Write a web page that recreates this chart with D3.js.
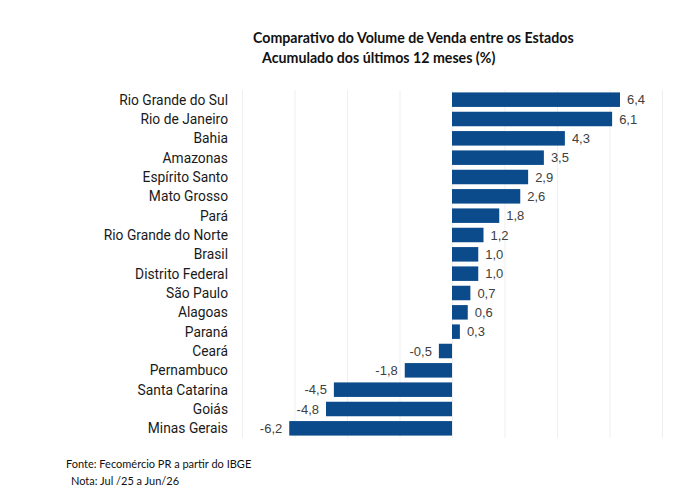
<!DOCTYPE html>
<meta charset="utf-8">
<title>Comparativo do Volume de Venda</title>
<style>
    body { margin: 0; background: #fff; }
    .title { font-family: Lato, "Noto Sans", sans-serif; font-weight: bold; font-size: 14.2px; fill: #111; }
    .note { font-family: Lato, "Noto Sans", sans-serif; font-size: 11px; fill: #111; }
    .cat { font-family: Roboto, "Liberation Sans", sans-serif; font-size: 13.8px; fill: #1a1a1a; }
    .val { font-family: "Liberation Sans", Arial, sans-serif; font-size: 13px; fill: #404040; }
</style>
<script src="https://d3js.org/d3.v7.js"></script>
<body>
<script>
    // data
    const states = ["Rio Grande do Sul", "Rio de Janeiro", "Bahia", "Amazonas", "Espírito Santo",
        "Mato Grosso", "Pará", "Rio Grande do Norte", "Brasil", "Distrito Federal", "São Paulo",
        "Alagoas", "Paraná", "Ceará", "Pernambuco", "Santa Catarina", "Goiás", "Minas Gerais"];
    const values = [6.4, 6.1, 4.3, 3.5, 2.9, 2.6, 1.8, 1.2, 1.0, 1.0, 0.7, 0.6, 0.3, -0.5, -1.8, -4.5, -4.8, -6.2];
    const gridTicks = [-8, -6, -4, -2, 0, 2, 4, 6, 8];

    const W = 683, H = 500;
    const svg = d3.select("body").append("svg")
        .attr("width", W)
        .attr("height", H);

    // scales
    const x = d3.scaleLinear()
        .domain([-8, 8])
        .range([242, 662]);

    const y = d3.scaleBand()
        .domain(states)
        .range([90, 438])
        .paddingInner(0.25)
        .paddingOuter(0.125);

    // grid
    svg.append("g")
        .selectAll("line")
        .data(gridTicks)
        .join("line")
        .attr("x1", d => x(d) + 0.5)
        .attr("x2", d => x(d) + 0.5)
        .attr("y1", 90)
        .attr("y2", 438)
        .attr("stroke", "#efefef")
        .attr("stroke-width", 1);

    const rows = states.map((s, i) => ({state: s, value: values[i]}));
    const fmt = v => v.toFixed(1).replace(".", ",");

    // bars
    svg.append("g")
        .selectAll("rect")
        .data(rows)
        .join("rect")
        .attr("x", d => x(Math.min(0, d.value)))
        .attr("y", d => y(d.state))
        .attr("width", d => Math.abs(x(d.value) - x(0)))
        .attr("height", y.bandwidth())
        .attr("fill", "#0B4A8B");

    // value labels
    svg.append("g")
        .selectAll("text")
        .data(rows)
        .join("text")
        .attr("class", "val")
        .attr("x", d => d.value >= 0 ? x(d.value) + 7 : x(d.value) - 7)
        .attr("y", d => y(d.state) + y.bandwidth() / 2)
        .attr("dy", "0.36em")
        .attr("text-anchor", d => d.value >= 0 ? "start" : "end")
        .text(d => fmt(d.value));

    // category labels
    svg.append("g")
        .selectAll("text")
        .data(rows)
        .join("text")
        .attr("class", "cat")
        .attr("x", 228)
        .attr("y", d => y(d.state) + y.bandwidth() / 2)
        .attr("dy", "0.36em")
        .attr("text-anchor", "end")
        .text(d => d.state);

    // title
    svg.append("text").attr("class", "title")
        .attr("x", 253).attr("y", 43)
        .text("Comparativo do Volume de Venda entre os Estados");
    svg.append("text").attr("class", "title")
        .attr("x", 262).attr("y", 63)
        .text("Acumulado dos últimos 12 meses (%)");

    // footnotes
    svg.append("text").attr("class", "note")
        .attr("x", 66).attr("y", 468)
        .text("Fonte: Fecomércio PR a partir do IBGE");
    svg.append("text").attr("class", "note")
        .attr("x", 71).attr("y", 485)
        .text("Nota: Jul /25 a Jun/26");
</script>
</body>
